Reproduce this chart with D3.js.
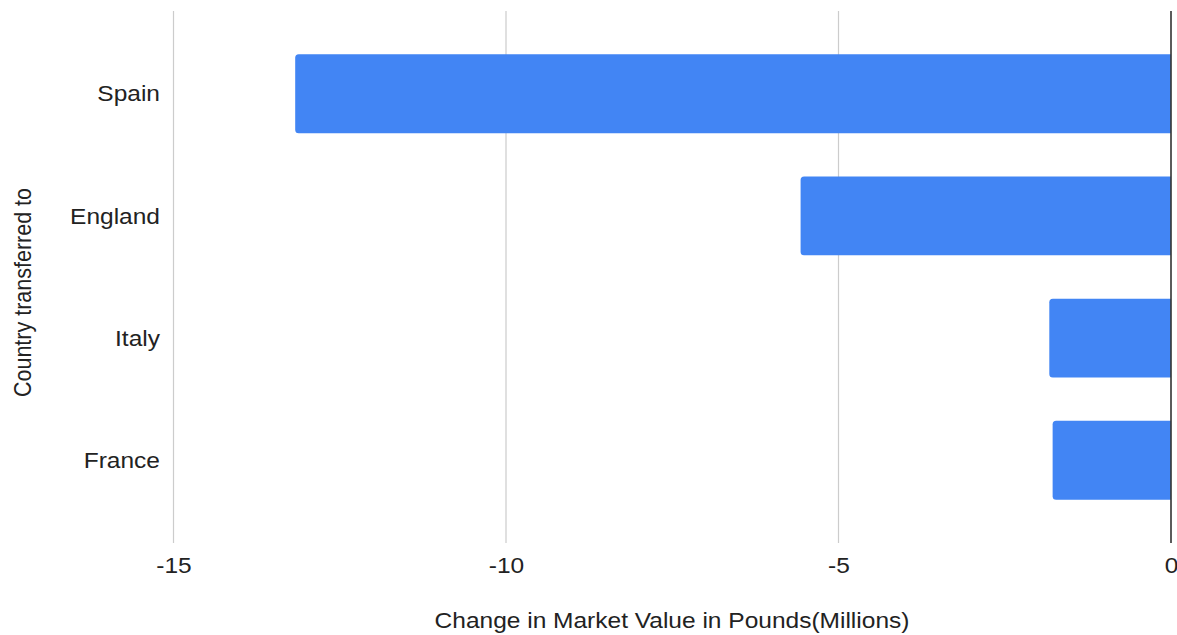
<!DOCTYPE html>
<html>
<head>
<meta charset="utf-8">
<script src="https://cdn.jsdelivr.net/npm/d3@7"></script>
<style>
  html, body { margin: 0; padding: 0; background: #fff; }
  svg { display: block; }
  text { font-family: "Liberation Sans", Arial, Helvetica, sans-serif; fill: #222; }
</style>
</head>
<body>
<svg id="chart" width="1177" height="635"></svg>
<script>
// Change in market value after transfer, by destination country (millions of pounds)
const countries = ["Spain", "England", "Italy", "France"];
const valueChange = [-13.17, -5.57, -1.83, -1.78];
const xTicks = [-15, -10, -5, 0];
const xTickLabels = ["-15", "-10", "-5", "0"];
const xTitle = "Change in Market Value in Pounds(Millions)";
const yTitle = "Country transferred to";

const plot = { left: 173.5, right: 1171, top: 11, bottom: 543 };
const fontSize = 21.5;
const stretch = 1.14; // horizontal widening of the lettering

const svg = d3.select("#chart");

const x = d3.scaleLinear().domain([-15, 0]).range([plot.left, plot.right]);
const y = d3.scaleBand().domain(countries).range([plot.top, plot.bottom]).padding(0.354);

// vertical gridlines
svg.append("g")
  .selectAll("line")
  .data(xTicks.filter(t => t !== 0))
  .join("line")
  .attr("x1", d => x(d)).attr("x2", d => x(d))
  .attr("y1", plot.top).attr("y2", plot.bottom)
  .attr("stroke", "#cccccc")
  .attr("stroke-width", 1.2);

// bars, rounded on the free (left) end
const r = 3.5;
function barPath(v, c) {
  const x0 = x(v), x1 = x(0), y0 = y(c), h = y.bandwidth();
  return `M${x1},${y0} H${x0 + r} Q${x0},${y0} ${x0},${y0 + r} V${y0 + h - r} Q${x0},${y0 + h} ${x0 + r},${y0 + h} H${x1} Z`;
}
svg.append("g")
  .selectAll("path")
  .data(countries.map((c, i) => ({ c, v: valueChange[i] })))
  .join("path")
  .attr("d", d => barPath(d.v, d.c))
  .attr("fill", "#4285f4");

// zero baseline
svg.append("line")
  .attr("x1", x(0)).attr("x2", x(0))
  .attr("y1", plot.top).attr("y2", plot.bottom)
  .attr("stroke", "#333")
  .attr("stroke-width", 1.6);

// x axis tick labels (plain hyphen minus)
const xAxis = d3.axisBottom(x)
  .tickValues(xTicks)
  .tickSize(0)
  .tickPadding(0)
  .tickFormat((d, i) => xTickLabels[i]);
const gx = svg.append("g").attr("transform", `translate(0,${plot.bottom})`).call(xAxis);
gx.select(".domain").remove();
gx.selectAll("text")
  .attr("y", 30).attr("dy", 0)
  .attr("font-size", fontSize)
  .attr("fill", "#222")
  .attr("transform", `scale(${stretch},1)`)
  .style("font-family", "'Liberation Sans', Arial, sans-serif");

// y axis category labels
const yAxis = d3.axisLeft(y).tickSize(0).tickPadding(0);
const gy = svg.append("g").attr("transform", `translate(160,0)`).call(yAxis);
gy.select(".domain").remove();
gy.selectAll("text")
  .attr("x", 0)
  .attr("dy", "0.36em")
  .attr("font-size", fontSize)
  .attr("fill", "#222")
  .attr("transform", `scale(${stretch},1)`)
  .style("font-family", "'Liberation Sans', Arial, sans-serif");

// x axis title
svg.append("text")
  .attr("transform", `translate(${(432 + 912) / 2},628) scale(${stretch},1)`)
  .attr("text-anchor", "middle")
  .attr("font-size", fontSize)
  .text(xTitle);

// y axis title
svg.append("text")
  .attr("transform", `translate(31,292.5) scale(${stretch},1) rotate(-90)`)
  .attr("text-anchor", "middle")
  .attr("font-size", fontSize)
  .text(yTitle);
</script>
</body>
</html>
